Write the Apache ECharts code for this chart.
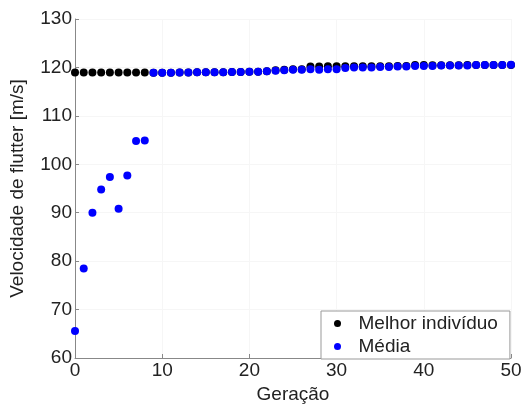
<!DOCTYPE html>
<html>
<head>
<meta charset="utf-8">
<script src="https://cdn.jsdelivr.net/npm/echarts@6/dist/echarts.min.js"></script>
<style>
  html, body { margin: 0; padding: 0; background: #fff; }
  #chart { width: 525px; height: 409px; }
</style>
</head>
<body>
<div id="chart"></div>
<script>
// geração 0..50
const geracoes = Array.from({ length: 51 }, (_, i) => i);

const melhor = [
  118.95, 118.95, 118.95, 118.95, 118.95, 118.95, 118.95, 118.95, 118.95,
  118.9, 118.9, 118.9, 118.95, 118.95, 119.0, 119.0, 119.0, 119.0, 119.05,
  119.05, 119.1, 119.1, 119.2, 119.4, 119.5, 119.6, 119.6,
  120.2, 120.2, 120.25, 120.25,
  120.25, 120.25, 120.25, 120.25, 120.25, 120.25, 120.3, 120.3,
  120.5, 120.5,
  120.45, 120.45, 120.45, 120.45, 120.5, 120.5, 120.5, 120.5, 120.5, 120.5
];

const media = [
  65.6, 78.5, 90.0, 94.8, 97.4, 90.8, 97.7, 104.8, 104.9,
  118.9, 118.9, 118.9, 118.95, 118.95, 119.0, 119.0, 119.0, 119.0, 119.05,
  119.05, 119.1, 119.1, 119.2, 119.3, 119.4, 119.5, 119.5,
  119.6, 119.5, 119.6, 119.6,
  119.9, 120.0, 120.0, 120.0, 120.1, 120.1, 120.2, 120.2,
  120.3, 120.3,
  120.3, 120.4, 120.4, 120.4, 120.4, 120.5, 120.5, 120.5, 120.5, 120.55
];

const yTicks = [60, 70, 80, 90, 100, 110, 120, 130];
const xTicks = [0, 10, 20, 30, 40, 50];

const chart = echarts.init(document.getElementById('chart'), null, { renderer: 'canvas' });

const font = 'Liberation Sans, Arial, sans-serif';

const option = {
  animation: false,
  backgroundColor: '#fff',
  grid: { left: 73, right: 14, top: 19, bottom: 44 },
  legend: {
    orient: 'vertical',
    left: 321,
    top: 311,
    padding: [3, 12, 3, 13],
    itemGap: 4,
    itemWidth: 20,
    itemHeight: 7,
    icon: 'circle',
    borderColor: '#999',
    borderWidth: 1,
    backgroundColor: '#fff',
    textStyle: { fontFamily: font, fontSize: 19, color: '#222', padding: [0, 0, 0, 6] },
    data: ['Melhor indivíduo', 'Média']
  },
  xAxis: {
    type: 'value',
    min: 0,
    max: 50,
    interval: 10,
    name: 'Geração',
    nameLocation: 'middle',
    nameGap: 27,
    nameTextStyle: { fontFamily: font, fontSize: 19, color: '#222' },
    axisLine: { show: true, onZero: false, lineStyle: { color: '#888', width: 1 } },
    axisTick: { show: true, inside: true, length: 4, lineStyle: { color: '#888' } },
    axisLabel: {
      fontFamily: font, fontSize: 19, color: '#222', margin: 3,
      formatter: v => xTicks.includes(v) ? String(v) : ''
    },
    splitLine: { show: true, lineStyle: { color: '#f6f6f6', width: 1 } }
  },
  yAxis: {
    type: 'value',
    min: 60,
    max: 130,
    interval: 10,
    name: 'Velocidade de flutter [m/s]',
    nameLocation: 'middle',
    nameGap: 48,
    nameTextStyle: { fontFamily: font, fontSize: 19, color: '#222' },
    axisLine: { show: true, onZero: false, lineStyle: { color: '#888', width: 1 } },
    axisTick: { show: true, inside: true, length: 4, lineStyle: { color: '#888' } },
    axisLabel: {
      fontFamily: font, fontSize: 19, color: '#222', margin: 3,
      formatter: v => yTicks.includes(v) ? String(v) : ''
    },
    splitLine: { show: true, lineStyle: { color: '#f6f6f6', width: 1 } }
  },
  series: [
    {
      name: 'Melhor indivíduo',
      type: 'scatter',
      symbol: 'circle',
      symbolSize: 8,
      itemStyle: { color: '#000', opacity: 1 },
      data: geracoes.map((g, i) => [g, melhor[i]])
    },
    {
      name: 'Média',
      type: 'scatter',
      symbol: 'circle',
      symbolSize: 8,
      itemStyle: { color: '#0000ff', opacity: 1 },
      data: geracoes.map((g, i) => [g, media[i]])
    }
  ]
};

chart.setOption(option);
</script>
</body>
</html>
